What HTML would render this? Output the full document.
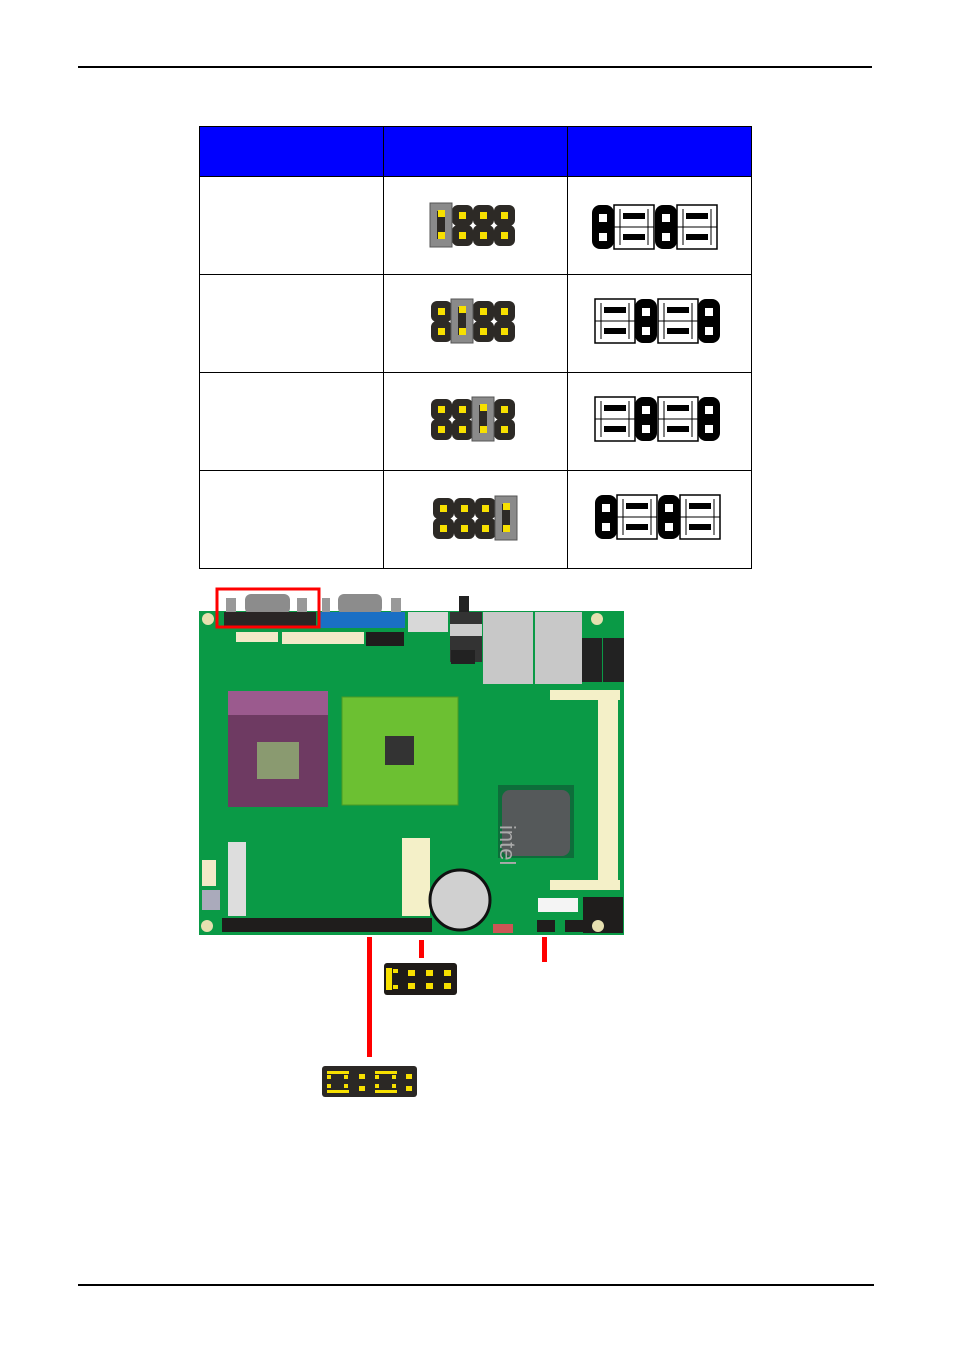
<!DOCTYPE html>
<html><head><meta charset="utf-8"><style>
html,body{margin:0;padding:0;background:#fff;}
body{width:954px;height:1352px;position:relative;overflow:hidden;font-family:"Liberation Sans",sans-serif;}
</style></head><body>
<svg width="954" height="1352" viewBox="0 0 954 1352" xmlns="http://www.w3.org/2000/svg">
<defs>
 <g id="pin"><rect x="0" y="0" width="21" height="21" rx="6" fill="#2d2a26"/><rect x="7" y="7" width="7" height="7" fill="#f7e000"/></g>
 <g id="col"><use href="#pin"/><use href="#pin" y="20"/></g>
 <g id="blk"><rect x="0" y="0" width="22" height="44" rx="8" fill="#000"/><rect x="7" y="9" width="8" height="8" fill="#fff"/><rect x="7" y="28" width="8" height="8" fill="#fff"/></g>
 <g id="wht"><rect x="0" y="0" width="40" height="44" fill="#fff" stroke="#000" stroke-width="1.5"/><line x1="0" y1="22" x2="40" y2="22" stroke="#000"/><rect x="9" y="8" width="22" height="6" fill="#000"/><rect x="9" y="29" width="22" height="6" fill="#000"/><line x1="6" y1="4" x2="6" y2="40" stroke="#000"/><line x1="34" y1="4" x2="34" y2="40" stroke="#000"/></g>
 <g id="cap"><rect x="-2" y="-2" width="22" height="44" fill="#8a8a8a" stroke="#555"/><rect x="5" y="6" width="8" height="28" fill="#2d2a26"/><rect x="6" y="5" width="7" height="7" fill="#f7e000"/><rect x="6" y="27" width="7" height="7" fill="#f7e000"/></g>
</defs>
<line x1="78" y1="67" x2="872" y2="67" stroke="#000" stroke-width="2"/>
<line x1="78" y1="1285" x2="874" y2="1285" stroke="#000" stroke-width="2"/>
<!-- table -->
<rect x="199.5" y="126.5" width="552" height="50" fill="#0000ff" stroke="#000"/>
<rect x="199.5" y="126.5" width="552" height="442" fill="none" stroke="#000"/>
<g stroke="#000"><line x1="383.5" y1="126" x2="383.5" y2="569"/><line x1="567.5" y1="126" x2="567.5" y2="569"/>
<line x1="199" y1="274.5" x2="752" y2="274.5"/><line x1="199" y1="372.5" x2="752" y2="372.5"/><line x1="199" y1="470.5" x2="752" y2="470.5"/></g>
<!-- col2 jumpers -->
<g transform="translate(431,205)"><use href="#col" x="21"/><use href="#col" x="42"/><use href="#col" x="63"/><use href="#cap" x="1"/></g>
<g transform="translate(431,301)"><use href="#col"/><use href="#col" x="42"/><use href="#col" x="63"/><use href="#cap" x="22"/></g>
<g transform="translate(431,399)"><use href="#col"/><use href="#col" x="21"/><use href="#col" x="63"/><use href="#cap" x="43"/></g>
<g transform="translate(433,498)"><use href="#col"/><use href="#col" x="21"/><use href="#col" x="42"/><use href="#cap" x="64"/></g>
<!-- col3 -->
<g transform="translate(592,205)"><use href="#blk"/><use href="#wht" x="22"/><use href="#blk" x="63"/><use href="#wht" x="85"/></g>
<g transform="translate(595,299)"><use href="#wht"/><use href="#blk" x="40"/><use href="#wht" x="63"/><use href="#blk" x="103"/></g>
<g transform="translate(595,397)"><use href="#wht"/><use href="#blk" x="40"/><use href="#wht" x="63"/><use href="#blk" x="103"/></g>
<g transform="translate(595,495)"><use href="#blk"/><use href="#wht" x="22"/><use href="#blk" x="63"/><use href="#wht" x="85"/></g>
<!-- board -->
<rect x="199" y="611" width="425" height="324" fill="#0a9a46"/>
<rect x="226" y="598" width="10" height="16" fill="#999"/><rect x="297" y="598" width="10" height="16" fill="#999"/>
<rect x="245" y="594" width="45" height="20" rx="6" fill="#8c8c8c"/>
<rect x="224" y="612" width="92" height="16" fill="#2a2525"/>
<rect x="322" y="598" width="8" height="16" fill="#999"/><rect x="391" y="598" width="10" height="16" fill="#999"/>
<rect x="338" y="594" width="44" height="20" rx="6" fill="#8c8c8c"/>
<rect x="320" y="612" width="85" height="16" fill="#1a6fc4"/>
<rect x="217" y="589" width="102" height="38" fill="none" stroke="#f00" stroke-width="3"/>
<rect x="408" y="612" width="40" height="20" fill="#d8d8d8"/>
<rect x="459" y="596" width="10" height="24" fill="#222"/><rect x="450" y="612" width="32" height="50" fill="#333"/><rect x="450" y="624" width="32" height="12" fill="#ccc"/>
<rect x="451" y="650" width="24" height="14" fill="#222"/>
<rect x="483" y="612" width="50" height="72" fill="#c8c8c8"/><rect x="535" y="612" width="47" height="72" fill="#c8c8c8"/>
<rect x="582" y="638" width="20" height="44" fill="#222"/><rect x="603" y="638" width="21" height="44" fill="#222"/>
<rect x="236" y="632" width="42" height="10" fill="#f2e9c8"/><rect x="282" y="632" width="82" height="12" fill="#f2e9c8"/>
<rect x="366" y="632" width="38" height="14" fill="#1f1d1c"/>
<rect x="228" y="691" width="100" height="24" fill="#9b5a8e"/><rect x="228" y="715" width="100" height="92" fill="#6e3a62"/><rect x="257" y="742" width="42" height="37" fill="#8a9a70"/>
<rect x="342" y="697" width="116" height="108" fill="#6cc032" stroke="#4a9a24"/><rect x="385" y="736" width="29" height="29" fill="#333"/>
<rect x="498" y="785" width="76" height="73" fill="#0d6e3a"/><rect x="502" y="790" width="68" height="66" rx="8" fill="#55595a"/>
<text x="515" y="840" transform="rotate(90 515 825)" font-size="22" fill="#aaa" font-family="Liberation Sans,sans-serif">intel</text>
<rect x="598" y="690" width="20" height="200" fill="#f4f0c8"/><rect x="550" y="690" width="70" height="10" fill="#f4f0c8"/><rect x="550" y="880" width="70" height="10" fill="#f4f0c8"/>
<rect x="402" y="838" width="28" height="78" fill="#f4f0c8"/>
<circle cx="460" cy="900" r="30" fill="#d0d0d0" stroke="#111" stroke-width="3"/>
<rect x="228" y="842" width="18" height="74" fill="#ddd"/>
<rect x="202" y="860" width="14" height="26" fill="#f2e9c8"/><rect x="202" y="890" width="18" height="20" fill="#aab"/>
<rect x="222" y="918" width="210" height="14" fill="#1f1d1c"/>
<rect x="538" y="898" width="40" height="14" fill="#f4f4f4"/><rect x="583" y="897" width="40" height="36" fill="#1f1d1c"/>
<rect x="537" y="920" width="18" height="12" fill="#1f1d1c"/><rect x="565" y="920" width="18" height="12" fill="#1f1d1c"/>
<rect x="493" y="924" width="20" height="9" fill="#c55"/>
<circle cx="208" cy="619" r="6" fill="#e6e0b0"/><circle cx="597" cy="619" r="6" fill="#e6e0b0"/><circle cx="207" cy="926" r="6" fill="#e6e0b0"/><circle cx="598" cy="926" r="6" fill="#e6e0b0"/>
<!-- red leaders -->
<rect x="367" y="937" width="5" height="120" fill="#f00"/>
<rect x="419" y="940" width="5" height="18" fill="#f00"/>
<rect x="542" y="937" width="5" height="25" fill="#f00"/>
<!-- bottom jumpers -->
<g transform="translate(384,963)"><rect x="0" y="0" width="73" height="32" rx="3" fill="#1f1b18"/>
<rect x="2" y="5" width="6" height="22" fill="#f7e000"/><rect x="9" y="6" width="5" height="4" fill="#f7e000"/><rect x="9" y="22" width="5" height="4" fill="#f7e000"/>
<rect x="24" y="7" width="7" height="6" fill="#f7e000"/><rect x="24" y="20" width="7" height="6" fill="#f7e000"/>
<rect x="42" y="7" width="7" height="6" fill="#f7e000"/><rect x="42" y="20" width="7" height="6" fill="#f7e000"/>
<rect x="60" y="7" width="7" height="6" fill="#f7e000"/><rect x="60" y="20" width="7" height="6" fill="#f7e000"/></g>
<g transform="translate(322,1066)"><rect x="0" y="0" width="95" height="31" rx="3" fill="#2b2825"/>
<rect x="5" y="5" width="22" height="3" fill="#f7e000"/><rect x="5" y="9" width="4" height="4" fill="#f7e000"/><rect x="22" y="9" width="4" height="4" fill="#f7e000"/>
<rect x="5" y="24" width="22" height="3" fill="#f7e000"/><rect x="5" y="18" width="4" height="4" fill="#f7e000"/><rect x="22" y="18" width="4" height="4" fill="#f7e000"/>
<rect x="37" y="8" width="6" height="5" fill="#f7e000"/><rect x="37" y="20" width="6" height="5" fill="#f7e000"/>
<rect x="53" y="5" width="22" height="3" fill="#f7e000"/><rect x="53" y="9" width="4" height="4" fill="#f7e000"/><rect x="70" y="9" width="4" height="4" fill="#f7e000"/>
<rect x="53" y="24" width="22" height="3" fill="#f7e000"/><rect x="53" y="18" width="4" height="4" fill="#f7e000"/><rect x="70" y="18" width="4" height="4" fill="#f7e000"/>
<rect x="84" y="8" width="6" height="5" fill="#f7e000"/><rect x="84" y="20" width="6" height="5" fill="#f7e000"/></g>
</svg>
</body></html>
